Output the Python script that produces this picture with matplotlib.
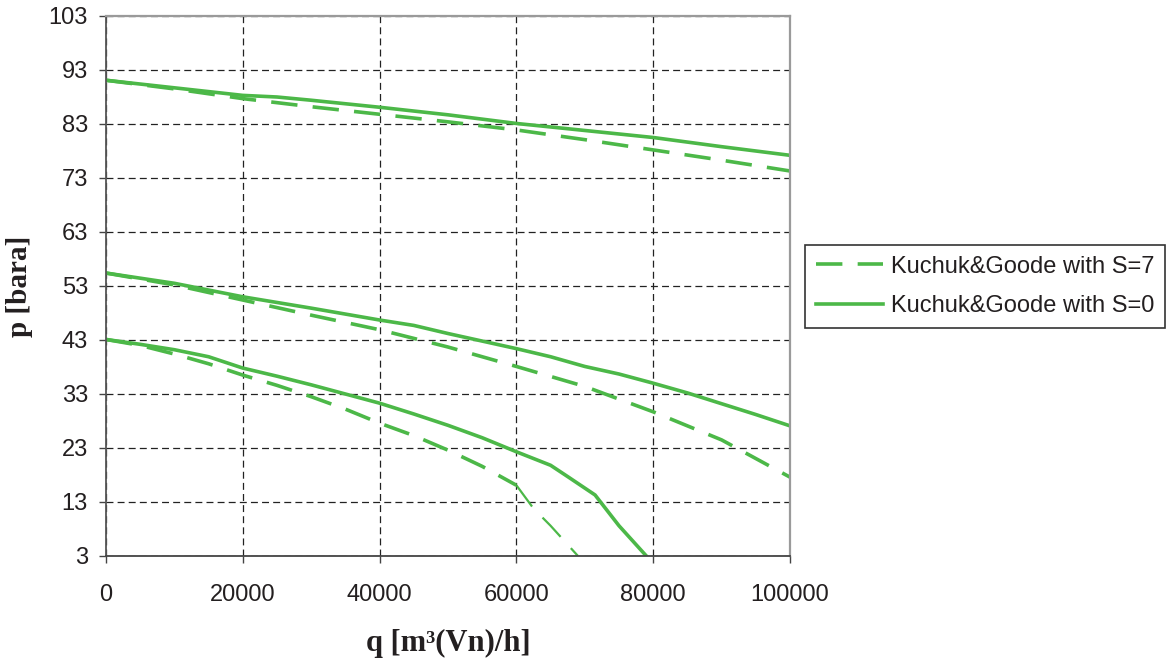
import numpy as np
import matplotlib
matplotlib.use('Agg')
import matplotlib.pyplot as plt

plt.rcParams['font.family'] = ['Liberation Sans', 'DejaVu Sans']
plt.rcParams['lines.scale_dashes'] = False

# flow rate q [m3(Vn)/h] and pressure p [bara] read for each curve
q_top_s0 = [0, 10000, 20000, 25000, 30000, 40000, 50000, 60000, 70000, 80000, 90000, 100000]
p_top_s0 = [91.1, 89.7, 88.3, 88.0, 87.4, 86.1, 84.7, 83.1, 81.8, 80.5, 78.8, 77.2]
q_top_s7 = [0, 10000, 20000, 30000, 40000, 50000, 60000, 70000, 80000, 90000, 100000]
p_top_s7 = [91.1, 89.5, 87.7, 86.2, 84.8, 83.4, 81.9, 80.1, 78.2, 76.3, 74.3]

q_mid_s0 = [0, 10000, 20000, 30000, 40000, 45000, 50000, 55000, 60000, 65000,
            70000, 75000, 80000, 85000, 90000, 95000, 100000]
p_mid_s0 = [55.4, 53.5, 51.0, 48.9, 46.7, 45.7, 44.2, 42.8, 41.4, 39.9,
            38.1, 36.7, 35.0, 33.2, 31.2, 29.2, 27.1]
q_mid_s7 = [0, 10000, 20000, 30000, 40000, 50000, 60000, 70000, 80000, 90000, 100000]
p_mid_s7 = [55.4, 53.2, 50.4, 47.6, 44.9, 41.7, 38.1, 34.4, 29.7, 24.5, 17.6]

q_low_s0 = [0, 5000, 10000, 15000, 20000, 25000, 30000, 35000, 40000, 45000,
            50000, 55000, 60000, 65000, 67500, 71500, 75000, 79000]
p_low_s0 = [43.1, 42.2, 41.2, 39.9, 37.8, 36.3, 34.7, 33.0, 31.3, 29.3,
            27.2, 24.9, 22.3, 19.8, 17.7, 14.3, 8.6, 3.0]
q_low_s7 = [0, 5000, 10000, 15000, 20000, 25000, 30000, 35000, 40000, 45000,
            50000, 55000, 60000, 62500, 65000, 69000]
p_low_s7 = [43.1, 42.0, 40.4, 38.6, 36.5, 34.6, 32.5, 30.2, 27.6, 25.3,
            22.6, 19.6, 16.1, 11.8, 8.6, 3.0]

x_ticks = [0, 20000, 40000, 60000, 80000, 100000]
y_ticks = [3, 13, 23, 33, 43, 53, 63, 73, 83, 93, 103]

green = '#4cb848'
dash = (0, (19, 11))
txt = '#231f20'

fig = plt.figure(figsize=(11.7, 6.62), dpi=100)
ax = fig.add_axes([106 / 1170, 1 - 556 / 662, 684 / 1170, 540 / 662])

ax.plot(q_top_s7, p_top_s7, color=green, lw=2.6, linestyle=dash, label='Kuchuk&Goode with S=7')
ax.plot(q_top_s0, p_top_s0, color=green, lw=2.6, label='Kuchuk&Goode with S=0')
ax.plot(q_mid_s7, p_mid_s7, color=green, lw=2.6, linestyle=dash)
ax.plot(q_mid_s0, p_mid_s0, color=green, lw=2.6)
# the low S=7 curve is drawn thinner beyond 60000
k = q_low_s7.index(60000)
ax.plot(q_low_s7[:k + 1], p_low_s7[:k + 1], color=green, lw=2.6, linestyle=dash)
ax.plot(q_low_s7[k:], p_low_s7[k:], color=green, lw=1.6, linestyle=dash)
ax.plot(q_low_s0, p_low_s0, color=green, lw=2.6)

ax.set_xlim(0, 100000)
ax.set_ylim(3, 103)
ax.set_xticks(x_ticks)
ax.set_yticks(y_ticks)
ax.grid(True, color='#222222', lw=0.9, linestyle=(0, (5, 3)))
ax.set_axisbelow(True)

ax.tick_params(axis='both', direction='out', length=5, width=1, color='#444444',
               labelsize=17, labelcolor=txt)
ax.tick_params(axis='x', pad=15)
ax.tick_params(axis='y', pad=8)

ax.spines['left'].set_color('#555555')
ax.spines['bottom'].set_color('#444444')
ax.spines['left'].set_linewidth(1.3)
ax.spines['bottom'].set_linewidth(1.3)
for s in ['top', 'right']:
    ax.spines[s].set_color('#9a9a9a')
    ax.spines[s].set_linewidth(1.6)

ax.set_xlabel('q [m³(Vn)/h]', family='Liberation Serif', fontweight='bold',
              fontsize=22, color=txt, labelpad=17)
ax.set_ylabel('p [bara]', family='Liberation Serif', fontweight='bold',
              fontsize=21, color=txt, labelpad=11)

leg = fig.legend(loc='upper left', bbox_to_anchor=(805 / 1170, 1 - 245 / 662),
                 bbox_transform=fig.transFigure, borderaxespad=0, fontsize=17,
                 frameon=True, fancybox=False, edgecolor='#333333', framealpha=1,
                 handlelength=2.85, handletextpad=0.33, borderpad=0.45,
                 labelspacing=0.75)
leg.get_frame().set_linewidth(1.2)
for t in leg.get_texts():
    t.set_color(txt)

fig.savefig('out.png', dpi=100)
